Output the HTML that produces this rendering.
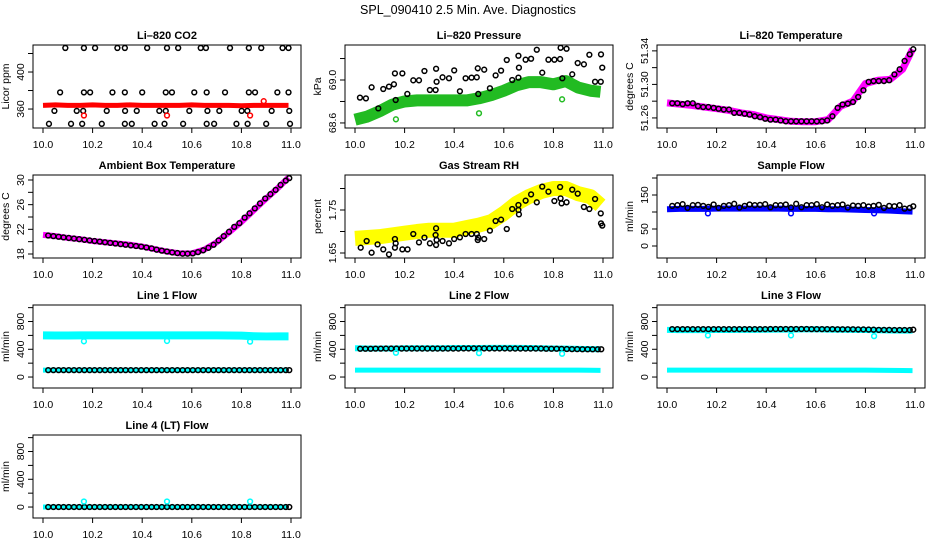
<!DOCTYPE html>
<html><head><meta charset="utf-8">
<style>
html,body{margin:0;padding:0;background:#fff;}
svg{display:block;font-family:"Liberation Sans",sans-serif;}
</style></head>
<body>
<svg id="chart" width="936" height="540" viewBox="0 0 936 540">
<rect x="0" y="0" width="936" height="540" fill="#fff"/>
<text x="468" y="14" text-anchor="middle" font-size="12.5">SPL_090410  2.5 Min. Ave. Diagnostics</text>
</svg>
<script>
const T=[10.021,10.042,10.063,10.083,10.104,10.125,10.146,10.167,10.188,10.208,10.229,10.250,10.271,10.292,10.313,10.333,10.354,10.375,10.396,10.417,10.438,10.458,10.479,10.500,10.521,10.542,10.563,10.583,10.604,10.625,10.646,10.667,10.688,10.708,10.729,10.750,10.771,10.792,10.813,10.833,10.854,10.875,10.896,10.917,10.938,10.958,10.979,10.993];
const bandX=[10.00,10.05,10.10,10.15,10.20,10.25,10.30,10.35,10.40,10.45,10.50,10.55,10.60,10.65,10.70,10.75,10.80,10.85,10.90,10.95,10.99];
const outX=[10.165,10.500,10.835];
const xTicks=[10.0,10.2,10.4,10.6,10.8,11.0];
const xTickLabels=["10.0","10.2","10.4","10.6","10.8","11.0"];

// CO2
const co2X=[10.09,10.165,10.21,10.30,10.33,10.42,10.50,10.545,10.636,10.657,10.754,10.83,10.88,10.966,10.99,
10.069,10.165,10.19,10.28,10.33,10.40,10.495,10.52,10.61,10.66,10.734,10.83,10.855,10.945,10.99,
10.046,10.136,10.162,10.257,10.331,10.378,10.469,10.495,10.59,10.663,10.711,10.801,10.824,10.922,10.993,
10.024,10.113,10.158,10.237,10.33,10.358,10.45,10.49,10.565,10.66,10.69,10.78,10.825,10.90,10.996];
const co2Y=[426,426,426,426,426,426,426,426,426,426,426,426,426,426,426,
378,378,378,378,378,378,378,378,378,378,378,378,378,378,378,
358,358,358,358,358,358,358,358,358,358,358,358,358,358,358,
344,344,344,344,344,344,344,344,344,344,344,344,344,344,344];
const co2Band=[364,364.5,364,364,364.5,364,364,364.5,364,364,364,364,364.5,364,364,364,363.5,364,364,364,364];
const co2OutX=[10.165,10.500,10.835,10.890];
const co2OutY=[353,353,353,368.5];

// Pressure
const presX=[10.020,10.044,10.067,10.094,10.114,10.137,10.157,10.161,10.164,10.191,10.211,10.235,10.258,10.280,10.302,10.327,10.329,10.325,10.353,10.379,10.400,10.423,10.446,10.470,10.491,10.497,10.495,10.521,10.544,10.567,10.589,10.612,10.634,10.659,10.659,10.661,10.688,10.710,10.733,10.755,10.780,10.804,10.827,10.829,10.836,10.853,10.876,10.898,10.923,10.945,10.968,10.991,10.992,10.997];
const presY=[68.836,68.829,68.932,68.736,68.916,68.938,68.960,69.062,68.814,69.062,68.870,68.997,68.997,69.084,68.907,69.105,68.984,68.907,69.025,69.016,69.090,68.895,69.016,69.022,69.025,68.870,69.109,69.096,68.923,69.043,69.087,69.186,69.000,69.226,69.022,69.115,69.189,69.198,69.282,69.068,69.189,69.189,69.195,69.300,69.016,69.291,69.053,69.158,69.146,69.235,68.984,68.984,69.239,69.115];
const presBand=[68.63,68.66,68.71,68.77,68.80,68.81,68.81,68.81,68.81,68.81,68.83,68.86,68.90,68.95,68.98,68.98,68.96,68.99,68.93,68.90,68.89];
const presOutY=[68.634,68.69,68.82];

// Li-820 temperature
const ltempY=[51.2775,51.2775,51.2765,51.2775,51.2775,51.274,51.273,51.273,51.272,51.271,51.270,51.270,51.266,51.266,51.265,51.264,51.262,51.261,51.259,51.258,51.258,51.257,51.256,51.256,51.256,51.256,51.256,51.256,51.256,51.256,51.257,51.262,51.272,51.276,51.277,51.279,51.285,51.293,51.303,51.304,51.304,51.304,51.305,51.312,51.318,51.328,51.336,51.342];
const ltempBand=[51.278,51.2765,51.275,51.273,51.271,51.269,51.266,51.264,51.260,51.258,51.256,51.2555,51.2555,51.258,51.274,51.280,51.301,51.305,51.306,51.318,51.342];

// Ambient box temperature
const ambY=[21.0,20.9,20.8,20.7,20.6,20.5,20.4,20.3,20.2,20.1,20.0,19.9,19.8,19.7,19.6,19.5,19.4,19.3,19.2,19.05,18.9,18.7,18.55,18.4,18.25,18.15,18.05,18.05,18.1,18.3,18.6,19.0,19.5,20.2,20.9,21.6,22.4,23.0,23.9,24.6,25.4,26.2,27.0,27.7,28.4,29.2,29.9,30.3];
const ambBand=[21.1,20.9,20.6,20.4,20.1,19.9,19.7,19.5,19.2,18.8,18.4,18.1,18.1,18.7,19.9,21.5,23.2,25.1,27.0,28.8,30.4];

// Gas stream RH
const rhX=[10.023,10.047,10.067,10.091,10.114,10.137,10.161,10.164,10.161,10.191,10.212,10.235,10.258,10.280,10.302,10.327,10.325,10.327,10.329,10.353,10.379,10.400,10.423,10.446,10.470,10.491,10.497,10.495,10.521,10.544,10.567,10.589,10.612,10.634,10.659,10.659,10.661,10.688,10.710,10.733,10.755,10.780,10.804,10.827,10.829,10.833,10.853,10.876,10.898,10.923,10.945,10.968,10.991,10.992,10.997];
const rhY=[1.6624,1.6779,1.6508,1.6701,1.6585,1.6469,1.6826,1.6725,1.6624,1.6585,1.6585,1.6942,1.6748,1.6857,1.6725,1.7074,1.6919,1.6686,1.6802,1.6779,1.6725,1.6826,1.6864,1.6942,1.6942,1.6942,1.6857,1.6802,1.6826,1.7020,1.7244,1.7275,1.7058,1.7523,1.7616,1.7500,1.7399,1.7717,1.7864,1.7679,1.8043,1.7926,1.7709,1.8035,1.7771,1.7655,1.7679,1.7973,1.7880,1.7570,1.7523,1.7756,1.7422,1.7190,1.7136];
const rhBand=[1.684,1.686,1.688,1.692,1.696,1.700,1.703,1.703,1.703,1.709,1.715,1.723,1.742,1.765,1.781,1.793,1.800,1.800,1.788,1.781,1.761];

// Sample flow
const sampY=[118,120,123,112,120,121,118,115,122,112,118,120,124,113,118,122,120,121,123,114,120,120,122,113,124,114,120,120,123,114,122,118,120,122,113,119,118,120,116,118,121,112,118,117,120,110,112,117];
const sampBand=[108,109,109,109,110,110,110,110,110,110,109,109,109,108,108,107,106,105,104,102,101];
const sampOutY=[96,96,96];

// Line flows
const l1Black=[100,100,100,100,100,100,100,100,100,100,100,100,100,100,100,100,100,100,100,100,100,100,100,100,100,100,100,100,100,100,100,100,100,100,100,100,100,100,100,100,100,100,100,100,100,100,100,100];
const l1BandHi=[600,598,598,600,600,600,600,600,600,600,600,600,600,600,600,598,596,588,585,585,585];
const l1BandLo=[100,100,100,100,100,100,100,100,100,100,100,100,100,100,100,100,100,100,100,100,100];
const l1OutY=[515,520,510];
const l2Black=[408,408,408,409,409,410,410,410,410,410,410,410,410,410,410,410,410,410,410,410,412,412,412,412,412,412,412,412,412,410,410,410,410,410,410,410,408,408,408,406,404,402,402,400,400,400,400,400];
const l2BandHi=[415,412,412,412,415,415,415,415,418,418,418,420,420,420,418,415,412,410,405,402,400];
const l2BandLo=[100,100,100,100,100,100,100,100,100,100,100,100,100,100,100,100,100,100,100,98,96];
const l2OutY=[350,345,335];
const l3Black=[690,690,690,690,690,690,690,690,690,690,690,690,690,690,690,690,690,690,690,692,692,692,692,692,692,692,692,690,690,690,690,690,688,688,688,688,686,686,684,682,680,680,680,678,678,678,678,682];
const l3BandHi=[680,676,676,676,678,678,680,680,682,684,684,686,688,684,682,680,678,674,670,668,668];
const l3BandLo=[100,100,100,100,100,100,100,100,100,100,100,100,100,100,100,100,100,98,96,94,92];
const l3OutY=[600,600,590];
const l4Black=[0,0,0,0,0,0,0,0,0,0,0,0,0,0,0,0,0,0,0,0,0,0,0,0,0,0,0,0,0,0,0,0,0,0,0,0,0,0,0,0,0,0,0,0,0,0,0,0];
const l4Band=[0,0,0,0,0,0,0,0,0,0,0,0,0,0,0,0,0,0,0,0,0];
const l4OutY=[80,80,80];

const NS="http://www.w3.org/2000/svg";
const svg=document.getElementById('chart');
const colL=[33,345,657], BW=268, rowT=[45,175,305,435], BH=83;
function mk(tag,attrs,parent){const e=document.createElementNS(NS,tag);for(const k in attrs)e.setAttribute(k,attrs[k]);(parent||svg).appendChild(e);return e;}

function panel(cfg){
  const L=colL[cfg.col], R=L+BW, Tp=rowT[cfg.row], B=Tp+BH;
  const g=mk('g',{});
  
  
  const xs=v=>L+10+(v-10)*(BW-20);
  const ys=v=>B-(v-cfg.yDom[0])/(cfg.yDom[1]-cfg.yDom[0])*BH;
  const clip='clip-'+cfg.name;
  const cp=mk('clipPath',{id:clip},g); mk('rect',{x:L,y:Tp,width:BW,height:BH},cp);
  const t=mk('text',{x:(L+R)/2,y:Tp-6,'text-anchor':'middle','font-size':'11','font-weight':'bold'},g);
  t.textContent=cfg.title;
  
  
  const plot=mk('g',{'clip-path':'url(#'+clip+')'},g);
  cfg.layers.forEach(ly=>{
    if(ly.type==='band'){
      const p=mk('polyline',{points:ly.x.map((v,i)=>xs(v)+','+ys(ly.y[i])).join(' '),fill:'none',stroke:ly.color,'stroke-width':ly.w,'stroke-linejoin':'round','stroke-linecap':'butt'},plot);
      
      
    } else {
      const gg=mk('g',{},plot);
      
      
      ly.x.forEach((v,i)=>{
        const c=mk('circle',{cx:xs(v),cy:ys(ly.y[i]),r:2.4,fill:'none',stroke:ly.color,'stroke-width':1.5},gg);
        
        
      });
    }
  });
  const box=mk('rect',{x:L,y:Tp,width:BW,height:BH,fill:'none',stroke:'#000','stroke-width':1},g);
  
  
  const xa=mk('g',{},g);
  
  
  xTicks.forEach((v,i)=>{
    mk('line',{x1:xs(v),x2:xs(v),y1:B,y2:B+5,stroke:'#000'},xa);
    const tl=mk('text',{x:xs(v),y:B+20,'text-anchor':'middle','font-size':'10.5'},xa);
    tl.textContent=xTickLabels[i];
  });
  const ya=mk('g',{},g);
  
  
  cfg.ticks.forEach(v=>{mk('line',{x1:L-5,x2:L,y1:ys(v),y2:ys(v),stroke:'#000'},ya);});
  cfg.labels.forEach((lab,i)=>{
    const y=ys(cfg.labelVals[i]);
    const tl=mk('text',{x:L-9,y:y,'text-anchor':'middle','font-size':'10.5',transform:'rotate(-90 '+(L-9)+' '+y+')'},ya);
    tl.textContent=lab;
  });
  const yt=mk('text',{x:L-24,y:(Tp+B)/2,'text-anchor':'middle','font-size':'10.5',transform:'rotate(-90 '+(L-24)+' '+((Tp+B)/2)+')'},g);
  yt.textContent=cfg.ylab;
  
  
}
const flowTicks=[0,200,400,600,800,1000], flowLab=["0","400","800"], flowLabV=[0,400,800], flowDom=[-158,1038];

panel({name:'co2',col:0,row:0,title:'Li\u2013820 CO2',ylab:'Licor ppm',yDom:[339.5,429.2],ticks:[360,380,400,420],labels:["360","400"],labelVals:[360,400],
  layers:[{type:'band',nm:'red-band',x:bandX,y:co2Band,color:'#ff0000',w:5},{type:'pts',nm:'black-points',x:co2X,y:co2Y,color:'#000'},{type:'pts',nm:'red-outliers',x:co2OutX,y:co2OutY,color:'#ff0000'}]});
panel({name:'pressure',col:1,row:0,title:'Li\u2013820 Pressure',ylab:'kPa',yDom:[68.553,69.326],ticks:[68.6,68.8,69.0,69.2],labels:["68.6","69.0"],labelVals:[68.6,69.0],
  layers:[{type:'band',nm:'green-band',x:bandX,y:presBand,color:'#22bb22',w:12},{type:'pts',nm:'black-points',x:presX,y:presY,color:'#000'},{type:'pts',nm:'green-outliers',x:outX,y:presOutY,color:'#22bb22'}]});
panel({name:'li820-temp',col:2,row:0,title:'Li\u2013820 Temperature',ylab:'degrees C',yDom:[51.248,51.347],ticks:[51.26,51.28,51.30,51.32,51.34],labels:["51.26","51.30","51.34"],labelVals:[51.26,51.30,51.34],
  layers:[{type:'band',nm:'magenta-band',x:bandX,y:ltempBand,color:'#ff00ff',w:7},{type:'pts',nm:'black-points',x:T,y:ltempY,color:'#000'}]});
panel({name:'ambient-temp',col:0,row:1,title:'Ambient Box Temperature',ylab:'degrees C',yDom:[17.35,30.81],ticks:[18,20,22,24,26,28,30],labels:["18","22","26","30"],labelVals:[18,22,26,30],
  layers:[{type:'band',nm:'magenta-band',x:bandX,y:ambBand,color:'#ff00ff',w:6},{type:'pts',nm:'black-points',x:T,y:ambY,color:'#000'}]});
panel({name:'rh',col:1,row:1,title:'Gas Stream RH',ylab:'percent',yDom:[1.6384,1.8314],ticks:[1.65,1.70,1.75,1.80],labels:["1.65","1.75"],labelVals:[1.65,1.75],
  layers:[{type:'band',nm:'yellow-band',x:bandX,y:rhBand,color:'#ffff00',w:15},{type:'pts',nm:'black-points',x:rhX,y:rhY,color:'#000'}]});
panel({name:'sample-flow',col:2,row:1,title:'Sample Flow',ylab:'ml/min',yDom:[-35.3,208.8],ticks:[0,50,100,150,200],labels:["0","50","150"],labelVals:[0,50,150],
  layers:[{type:'band',nm:'blue-band',x:bandX,y:sampBand,color:'#0000ff',w:6},{type:'pts',nm:'black-points',x:T,y:sampY,color:'#000'},{type:'pts',nm:'blue-outliers',x:outX,y:sampOutY,color:'#0000ff'}]});
panel({name:'line1-flow',col:0,row:2,title:'Line 1 Flow',ylab:'ml/min',yDom:flowDom,ticks:flowTicks,labels:flowLab,labelVals:flowLabV,
  layers:[{type:'band',nm:'cyan-band-high',x:bandX,y:l1BandHi,color:'#00ffff',w:8},{type:'band',nm:'cyan-band-low',x:bandX,y:l1BandLo,color:'#00ffff',w:5},{type:'pts',nm:'black-points',x:T,y:l1Black,color:'#000'},{type:'pts',nm:'cyan-outliers',x:outX,y:l1OutY,color:'#00ffff'}]});
panel({name:'line2-flow',col:1,row:2,title:'Line 2 Flow',ylab:'ml/min',yDom:flowDom,ticks:flowTicks,labels:flowLab,labelVals:flowLabV,
  layers:[{type:'band',nm:'cyan-band-high',x:bandX,y:l2BandHi,color:'#00ffff',w:6},{type:'band',nm:'cyan-band-low',x:bandX,y:l2BandLo,color:'#00ffff',w:5},{type:'pts',nm:'black-points',x:T,y:l2Black,color:'#000'},{type:'pts',nm:'cyan-outliers',x:outX,y:l2OutY,color:'#00ffff'}]});
panel({name:'line3-flow',col:2,row:2,title:'Line 3 Flow',ylab:'ml/min',yDom:flowDom,ticks:flowTicks,labels:flowLab,labelVals:flowLabV,
  layers:[{type:'band',nm:'cyan-band-high',x:bandX,y:l3BandHi,color:'#00ffff',w:6},{type:'band',nm:'cyan-band-low',x:bandX,y:l3BandLo,color:'#00ffff',w:5},{type:'pts',nm:'black-points',x:T,y:l3Black,color:'#000'},{type:'pts',nm:'cyan-outliers',x:outX,y:l3OutY,color:'#00ffff'}]});
panel({name:'line4-flow',col:0,row:3,title:'Line 4 (LT) Flow',ylab:'ml/min',yDom:flowDom,ticks:flowTicks,labels:flowLab,labelVals:flowLabV,
  layers:[{type:'band',nm:'cyan-band',x:bandX,y:l4Band,color:'#00ffff',w:5},{type:'pts',nm:'black-points',x:T,y:l4Black,color:'#000'},{type:'pts',nm:'cyan-outliers',x:outX,y:l4OutY,color:'#00ffff'}]});
</script>
</body></html>
